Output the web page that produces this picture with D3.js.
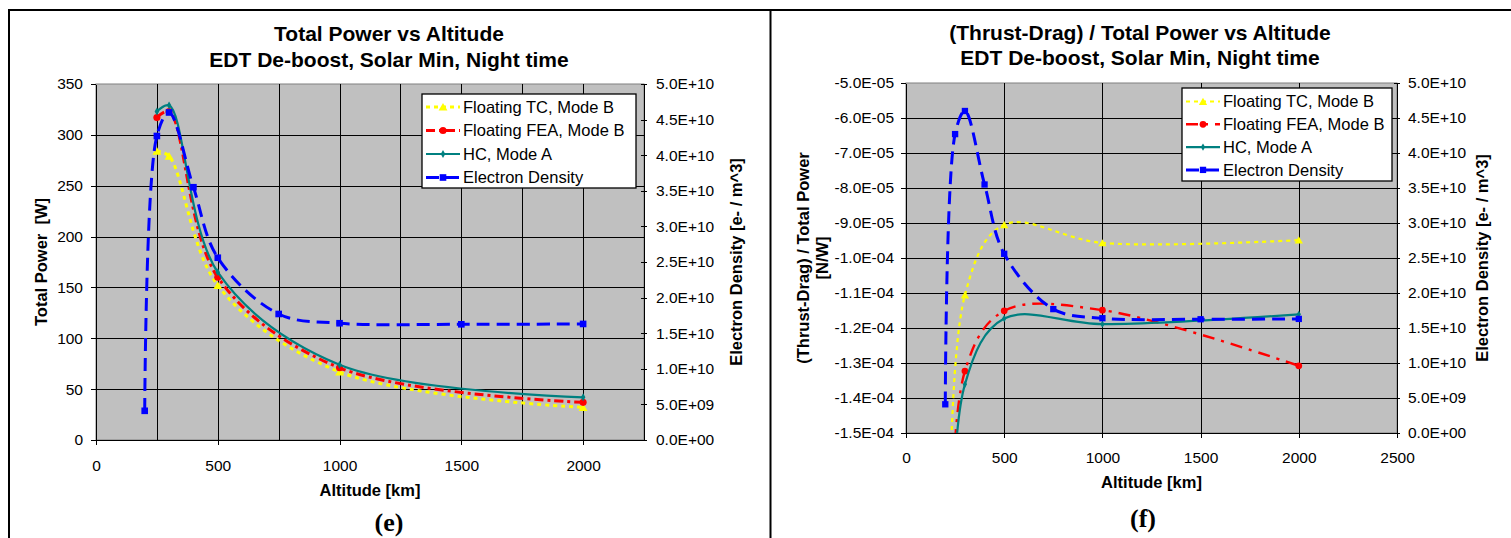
<!DOCTYPE html>
<html><head><meta charset="utf-8">
<script src="https://cdn.jsdelivr.net/npm/d3@7"></script>
<style>
html,body{margin:0;padding:0;background:#fff;}
svg{display:block;font-family:Arial,"Liberation Sans",sans-serif;}
</style></head><body>
<svg id="chart" width="1511" height="538"></svg>
<script>
// ---------------- data ----------------
const altitude = [250, 300, 500, 1000, 2000];
const densityAltitude = [200, 250, 300, 400, 500, 750, 1000, 1500, 2000];

const powerTC  = [284, 279, 152, 67, 32];
const powerFEA = [317, 323, 160, 71, 37];
const powerHC  = [323, 329, 165, 74, 42];

const electronDensity = [4.1e9, 4.27e10, 4.6e10, 3.55e10, 2.56e10, 1.77e10, 1.64e10, 1.625e10, 1.63e10];

const ratioTC  = [-3.0e-4, -1.106e-4, -9.05e-5, -9.57e-5, -9.49e-5];
const ratioFEA = [-2.6e-4, -1.323e-4, -1.151e-4, -1.149e-4, -1.308e-4];
const ratioHC  = [-2.6e-4, -1.361e-4, -1.173e-4, -1.189e-4, -1.161e-4];

const seriesNames = ["Floating TC, Mode B", "Floating FEA, Mode B", "HC, Mode A", "Electron Density"];

const powerTicks = [0, 50, 100, 150, 200, 250, 300, 350];
const powerXTicks = [0, 500, 1000, 1500, 2000];
const powerXGrid = [250, 500, 750, 1000, 1250, 1500, 1750, 2000];
const densityTicks = [0, 5e9, 1e10, 1.5e10, 2e10, 2.5e10, 3e10, 3.5e10, 4e10, 4.5e10, 5e10];
const ratioTicks = [-1.5e-4, -1.4e-4, -1.3e-4, -1.2e-4, -1.1e-4, -1.0e-4, -9e-5, -8e-5, -7e-5, -6e-5, -5e-5];
const ratioXTicks = [0, 500, 1000, 1500, 2000, 2500];

// ---------------- helpers ----------------
function fmtSci(v) {
  const s = v.toExponential(1);
  const [m, e] = s.split("e");
  return m + "E" + e[0] + e.slice(1).padStart(2, "0");
}
const svg = d3.select("#chart");

// frames
svg.append("path").attr("d", "M9,538 V10 H1511").attr("fill", "none")
  .attr("stroke", "#000").attr("stroke-width", 2);
svg.append("line").attr("x1", 770.5).attr("x2", 770.5).attr("y1", 10).attr("y2", 538)
  .attr("stroke", "#000").attr("stroke-width", 2);

const markerTypes = { tri: d3.symbolTriangle, circ: d3.symbolCircle, dia: d3.symbolDiamond, sq: d3.symbolSquare };

function drawPanel(p) {
  const x = d3.scaleLinear().domain(p.xDomain).range([p.left, p.right]);
  const yL = d3.scaleLinear().domain(p.yDomain).range([p.bottom, p.top]);
  const yR = d3.scaleLinear().domain([0, 5e10]).range([p.bottom, p.top]);
  const g = svg.append("g");

  g.append("rect").attr("x", p.left).attr("y", p.top)
    .attr("width", p.right - p.left).attr("height", p.bottom - p.top)
    .attr("fill", "#c0c0c0").attr("stroke", "#808080").attr("stroke-width", 1);

  // grid
  g.append("g").selectAll("line")
    .data(p.xGrid.filter(v => v > p.xDomain[0] && v < p.xDomain[1]))
    .join("line")
    .attr("x1", v => Math.round(x(v)) + 0.5).attr("x2", v => Math.round(x(v)) + 0.5)
    .attr("y1", p.top).attr("y2", p.bottom)
    .attr("stroke", "#000").attr("stroke-width", 1).attr("shape-rendering", "crispEdges");
  g.append("g").selectAll("line")
    .data(p.yTicks.filter(v => v > p.yDomain[0] + 1e-12 && v < p.yDomain[1] - 1e-12))
    .join("line")
    .attr("y1", v => Math.round(yL(v)) + 0.5).attr("y2", v => Math.round(yL(v)) + 0.5)
    .attr("x1", p.left).attr("x2", p.right)
    .attr("stroke", "#000").attr("stroke-width", 1).attr("shape-rendering", "crispEdges");

  // clip
  const cid = "clip" + p.id;
  svg.append("clipPath").attr("id", cid).append("rect")
    .attr("x", p.left).attr("y", p.top).attr("width", p.right - p.left).attr("height", p.bottom - p.top);
  const lg = g.append("g").attr("clip-path", `url(#${cid})`);
  const lineGen = d3.line().curve(d3.curveCatmullRom.alpha(0.5));

  p.series.forEach(s => {
    const ys = s.axis === "right" ? yR : yL;
    const pts = s.xs.map((xv, i) => [x(xv), ys(s.ys[i])]);
    lg.append("path").attr("d", lineGen(pts)).attr("fill", "none")
      .attr("stroke", s.color).attr("stroke-width", s.width)
      .attr("stroke-dasharray", s.dash || null);
    lg.append("g").selectAll("path").data(pts).join("path")
      .attr("transform", d => `translate(${d[0]},${d[1]})${s.marker === "tri" ? " translate(0,1)" : ""}`)
      .attr("d", d3.symbol().type(markerTypes[s.marker]).size(s.msize))
      .attr("fill", s.color);
  });

  // axes
  const axL = g.append("g").attr("transform", `translate(${p.left},0)`)
    .call(d3.axisLeft(yL).tickValues(p.yTicks).tickSize(5).tickSizeOuter(0).tickPadding(p.lPad).tickFormat(p.yFmt));
  const axR = g.append("g").attr("transform", `translate(${p.right},0)`)
    .call(d3.axisRight(yR).tickValues(densityTicks).tickSize(3).tickSizeOuter(0).tickPadding(p.rPad).tickFormat(fmtSci));
  axR.selectAll(".tick line").attr("x1", -3);
  const axB = g.append("g").attr("transform", `translate(0,${p.bottom})`)
    .call(d3.axisBottom(x).tickValues(p.xTicks).tickSize(5).tickSizeOuter(0).tickPadding(p.bPad).tickFormat(d3.format("d")));
  [axL, axR, axB].forEach(a => {
    a.attr("font-family", null).attr("font-size", null);
    a.selectAll("text").attr("font-size", "15.5px").attr("fill", "#000");
    a.selectAll("line,path").attr("stroke", "#000").attr("shape-rendering", "crispEdges");
  });

  // titles
  p.title.forEach((t, i) => {
    svg.append("text").attr("x", p.titleX).attr("y", p.titleY[i]).attr("text-anchor", "middle")
      .attr("font-weight", "bold").attr("font-size", "21px").text(t);
  });
  svg.append("text").attr("x", (p.left + p.right) / 2).attr("y", p.xTitleY).attr("text-anchor", "middle")
    .attr("font-weight", "bold").attr("font-size", "16.5px").text("Altitude [km]");
  p.yTitle.forEach((t, i) => {
    svg.append("text").attr("transform", `translate(${p.yTitleX[i]},${(p.top + p.bottom) / 2}) rotate(-90)`)
      .attr("text-anchor", "middle").attr("font-weight", "bold").attr("font-size", "16.5px")
      .style("white-space", "pre").text(t);
  });
  svg.append("text").attr("transform", `translate(${p.rTitleX},${(p.top + p.bottom) / 2}) rotate(-90)`)
    .attr("text-anchor", "middle").attr("font-weight", "bold").attr("font-size", "16.5px")
    .text("Electron Density [e- / m^3]");
  svg.append("text").attr("x", p.tagX).attr("y", p.tagY).attr("text-anchor", "middle")
    .attr("font-family", "'Liberation Serif','Times New Roman',serif").attr("font-weight", "bold")
    .attr("font-size", "26px").text(p.tag);

  // legend
  const L = p.legend;
  svg.append("rect").attr("x", L.x).attr("y", L.y).attr("width", L.w).attr("height", L.h)
    .attr("fill", "#fff").attr("stroke", "#000").attr("stroke-width", 1.3);
  p.series.forEach((s, i) => {
    const cy = L.row0 + i * L.step;
    const sx = L.x + 4;
    svg.append("line").attr("x1", sx).attr("x2", sx + 34).attr("y1", cy).attr("y2", cy)
      .attr("stroke", s.color).attr("stroke-width", s.width).attr("stroke-dasharray", s.dash || null);
    svg.append("path").attr("transform", `translate(${sx + 17},${cy + (s.marker === "tri" ? 1 : 0)})`)
      .attr("d", d3.symbol().type(markerTypes[s.marker]).size(s.msize)).attr("fill", s.color);
    svg.append("text").attr("x", L.x + 41).attr("y", cy).attr("dy", "0.36em")
      .attr("font-size", "16.5px").text(seriesNames[i]);
  });
}

// ---------------- left panel ----------------
drawPanel({
  id: "e", left: 96, right: 644, top: 84, bottom: 440,
  xDomain: [0, 2250], yDomain: [0, 350],
  xTicks: powerXTicks, xGrid: powerXGrid, yTicks: powerTicks, yFmt: d3.format("d"),
  lPad: 8, rPad: 9, bPad: 15,
  title: ["Total Power vs Altitude", "EDT De-boost, Solar Min, Night time"],
  titleX: 389, titleY: [41, 66.5], xTitleY: 496,
  yTitle: ["Total Power  [W]"], yTitleX: [46.5], rTitleX: 742,
  tag: "(e)", tagX: 389, tagY: 531,
  legend: { x: 422, y: 94, w: 214, h: 94, row0: 107, step: 23.5 },
  series: [
    { xs: altitude, ys: powerTC, color: "#ffff00", width: 3, dash: "4,4", marker: "tri", msize: 34 },
    { xs: altitude, ys: powerFEA, color: "#ff0000", width: 3, dash: "9,4,3,4", marker: "circ", msize: 40 },
    { xs: altitude, ys: powerHC, color: "#008080", width: 2.2, dash: null, marker: "dia", msize: 18 },
    { xs: densityAltitude, ys: electronDensity, axis: "right", color: "#0000ff", width: 3, dash: "13,7", marker: "sq", msize: 44 }
  ]
});

// ---------------- right panel ----------------
drawPanel({
  id: "f", left: 906, right: 1397, top: 83, bottom: 433,
  xDomain: [0, 2500], yDomain: [-1.5e-4, -5e-5],
  xTicks: ratioXTicks, xGrid: ratioXTicks, yTicks: ratioTicks, yFmt: fmtSci,
  lPad: 7, rPad: 8, bPad: 14,
  title: ["(Thrust-Drag) / Total Power vs Altitude", "EDT De-boost, Solar Min, Night time"],
  titleX: 1140, titleY: [40, 64.5], xTitleY: 488,
  yTitle: ["(Thrust-Drag) / Total Power", "[N/W]"], yTitleX: [809, 828], rTitleX: 1488,
  tag: "(f)", tagX: 1143, tagY: 527,
  legend: { x: 1182, y: 88, w: 210, h: 93, row0: 101.5, step: 22.8 },
  series: [
    { xs: altitude, ys: ratioTC, color: "#ffff00", width: 2.2, dash: "4,4", marker: "tri", msize: 30 },
    { xs: altitude, ys: ratioFEA, color: "#ff0000", width: 2.4, dash: "12,7,3,7", marker: "circ", msize: 36 },
    { xs: altitude, ys: ratioHC, color: "#008080", width: 2.2, dash: null, marker: "dia", msize: 16 },
    { xs: densityAltitude, ys: electronDensity, axis: "right", color: "#0000ff", width: 3, dash: "13,7", marker: "sq", msize: 40 }
  ]
});
</script>
</body></html>
